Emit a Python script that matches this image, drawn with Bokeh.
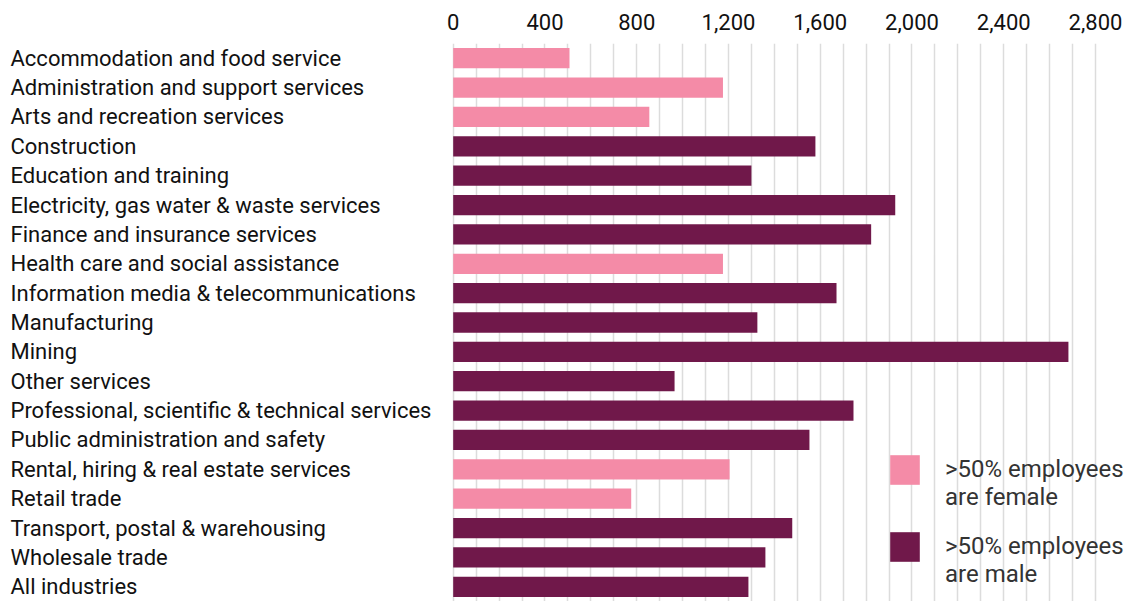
from bokeh.plotting import figure
from bokeh.models import (ColumnDataSource, Range1d, FixedTicker, Legend, LegendItem,
                          NumeralTickFormatter, FactorRange)
from bokeh.core.properties import value
from bokeh.embed import file_html
from bokeh.resources import INLINE

industries = [
    "Accommodation and food service",
    "Administration and support services",
    "Arts and recreation services",
    "Construction",
    "Education and training",
    "Electricity, gas water & waste services",
    "Finance and insurance services",
    "Health care and social assistance",
    "Information media & telecommunications",
    "Manufacturing",
    "Mining",
    "Other services",
    "Professional, scientific & technical services",
    "Public administration and safety",
    "Rental, hiring & real estate services",
    "Retail trade",
    "Transport, postal & warehousing",
    "Wholesale trade",
    "All industries",
]
earnings = [507, 1176, 855, 1579, 1300, 1927, 1822, 1176, 1671, 1326,
            2682, 965, 1745, 1553, 1205, 776, 1478, 1361, 1287]
majority = ["female", "female", "female", "male", "male", "male", "male", "female",
            "male", "male", "male", "male", "male", "male", "female", "female",
            "male", "male", "male"]
axis_ticks = [0, 400, 800, 1200, 1600, 2000, 2400, 2800]
grid_step = 100
legend_labels = {"female": "\n>50% employees\nare female",
                 "male": "\n>50% employees\nare male"}

COLORS = {"female": "#F48BA7", "male": "#70184A"}
FONT = "Roboto"

W, H = 1145, 601
FRAME_TOP = 43
X0_PX, XMAX_PX = 452.7, 1095.0
ppu = (XMAX_PX - X0_PX) / axis_ticks[-1]
x_start = -X0_PX / ppu
x_end = (W - X0_PX) / ppu
label_x = x_start + 10 / ppu

p = figure(width=W, height=H,
           x_range=Range1d(x_start, x_end),
           y_range=FactorRange(*reversed(industries), range_padding=0),
           x_axis_location="above", y_axis_location=None,
           output_backend="svg", toolbar_location=None,
           min_border_top=FRAME_TOP, min_border_left=0, min_border_right=0,
           min_border_bottom=0)
p.outline_line_color = None
p.background_fill_color = "white"

xa = p.xaxis[0]
xa.ticker = FixedTicker(ticks=axis_ticks)
xa.formatter = NumeralTickFormatter(format="0,0")
xa.axis_line_color = None
xa.major_tick_line_color = None
xa.minor_tick_line_color = None
xa.major_label_text_font = FONT
xa.major_label_text_font_size = "22px"
xa.major_label_text_color = "#111111"
xa.major_label_standoff = 8

p.xgrid.ticker = FixedTicker(ticks=list(range(0, axis_ticks[-1] + 1, grid_step)))
p.xgrid.grid_line_color = "#dcdcdc"
p.xgrid.grid_line_width = 1.5
p.ygrid.grid_line_color = None

renderers = {}
for grp in ["female", "male"]:
    idx = [i for i, m in enumerate(majority) if m == grp]
    src = ColumnDataSource(dict(industry=[industries[i] for i in idx],
                                value=[earnings[i] for i in idx]))
    renderers[grp] = p.hbar(y="industry", right="value", left=0, height=0.69,
                            source=src, fill_color=COLORS[grp], line_color=None)

lab_src = ColumnDataSource(dict(industry=industries))
p.text(x=value(label_x), y="industry", text="industry", source=lab_src,
       text_align="left", text_baseline="middle", text_font=value(FONT),
       text_font_size="22px", text_color="#111111")

legend_pos = {"female": (886, 90), "male": (886, 13)}
for g in ["female", "male"]:
    lg = Legend(items=[LegendItem(label=legend_labels[g], renderers=[renderers[g]])],
                location=legend_pos[g], orientation="vertical")
    lg.glyph_width = 37
    lg.glyph_height = 37
    lg.label_standoff = 22
    lg.padding = 0
    lg.margin = 0
    lg.border_line_color = None
    lg.background_fill_alpha = 0
    lg.label_text_font = FONT
    lg.label_text_font_size = "24px"
    lg.label_text_line_height = 1.22
    lg.label_text_color = "#333333"
    p.add_layout(lg)

open("out.html", "w").write(file_html(p, INLINE))
